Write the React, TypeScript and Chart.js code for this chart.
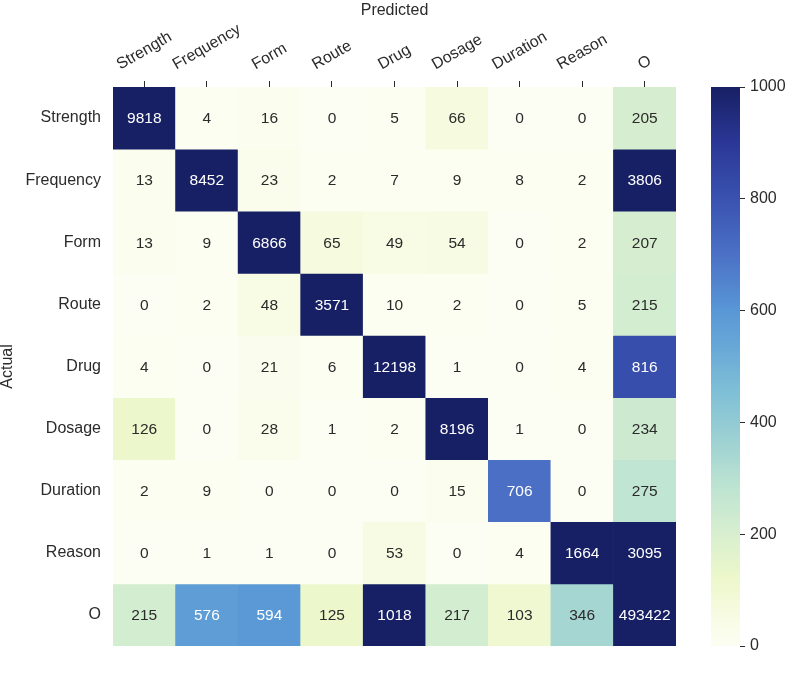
import React, { useEffect, useRef } from "react";
import { Chart, registerables } from "chart.js";

Chart.register(...registerables);

// ---------- data ----------
const predictedLabels = ["Strength", "Frequency", "Form", "Route", "Drug", "Dosage", "Duration", "Reason", "O"];
const actualLabels = ["Strength", "Frequency", "Form", "Route", "Drug", "Dosage", "Duration", "Reason", "O"];

const rowStrength = [9818, 4, 16, 0, 5, 66, 0, 0, 205];
const rowFrequency = [13, 8452, 23, 2, 7, 9, 8, 2, 3806];
const rowForm = [13, 9, 6866, 65, 49, 54, 0, 2, 207];
const rowRoute = [0, 2, 48, 3571, 10, 2, 0, 5, 215];
const rowDrug = [4, 0, 21, 6, 12198, 1, 0, 4, 816];
const rowDosage = [126, 0, 28, 1, 2, 8196, 1, 0, 234];
const rowDuration = [2, 9, 0, 0, 0, 15, 706, 0, 275];
const rowReason = [0, 1, 1, 0, 53, 0, 4, 1664, 3095];
const rowO = [215, 576, 594, 125, 1018, 217, 103, 346, 493422];

const colorbarTicks = [0, 200, 400, 600, 800, 1000];
const colorMin = 0;
const colorMax = 1000;

const matrix = [rowStrength, rowFrequency, rowForm, rowRoute, rowDrug, rowDosage, rowDuration, rowReason, rowO];

// ---------- style ----------
const FONT = "'Liberation Sans', Arial, Helvetica, sans-serif";
const TEXT = "#2b2b2b";

const cmapStops: [number, number[]][] = [
  [0.0, [252, 254, 243]],
  [0.06, [247, 251, 225]],
  [0.1, [240, 248, 210]],
  [0.125, [236, 247, 203]],
  [0.2, [216, 239, 207]],
  [0.25, [200, 232, 209]],
  [0.3, [184, 225, 210]],
  [0.35, [164, 213, 210]],
  [0.45, [128, 192, 214]],
  [0.55, [100, 164, 215]],
  [0.6, [89, 151, 214]],
  [0.7, [75, 113, 198]],
  [0.8, [58, 82, 176]],
  [0.9, [43, 55, 150]],
  [1.0, [23, 32, 100]],
];

function cmapRGB(v: number): number[] {
  let t = (v - colorMin) / (colorMax - colorMin);
  t = Math.max(0, Math.min(1, t));
  for (let i = 1; i < cmapStops.length; i++) {
    const [t1, c1] = cmapStops[i];
    const [t0, c0] = cmapStops[i - 1];
    if (t <= t1) {
      const f = (t - t0) / (t1 - t0 || 1);
      return c0.map((c, k) => Math.round(c + (c1[k] - c) * f));
    }
  }
  return cmapStops[cmapStops.length - 1][1];
}
function cmap(v: number): string {
  const c = cmapRGB(v);
  return `rgb(${c[0]},${c[1]},${c[2]})`;
}
function luminance(c: number[]): number {
  const lin = c.map((x) => {
    const s = x / 255;
    return s <= 0.03928 ? s / 12.92 : Math.pow((s + 0.055) / 1.055, 2.4);
  });
  return 0.2126 * lin[0] + 0.7152 * lin[1] + 0.0722 * lin[2];
}

const cellTextPlugin = {
  id: "cellText",
  afterDatasetsDraw(chart: any) {
    const ctx = chart.ctx;
    ctx.save();
    ctx.font = `15.5px ${FONT}`;
    ctx.textAlign = "center";
    ctx.textBaseline = "middle";
    chart.data.datasets.forEach((ds: any, r: number) => {
      const meta = chart.getDatasetMeta(r);
      meta.data.forEach((el: any, c: number) => {
        const v = ds.values[c];
        const lum = luminance(cmapRGB(v));
        ctx.fillStyle = lum > 0.408 ? TEXT : "#ffffff";
        const cy = (el.y + el.base) / 2;
        ctx.fillText(String(v), el.x, cy + 1);
      });
    });
    ctx.restore();
  },
};

const xLabelPlugin = {
  id: "xLabelsRotated",
  afterDraw(chart: any) {
    const ctx = chart.ctx;
    const xs = chart.scales.x;
    const ang = (30 * Math.PI) / 180;
    const fs = 16;
    const h = fs * 1.15;
    const bottomY = xs.bottom - 13;
    ctx.save();
    ctx.font = `${fs}px ${FONT}`;
    ctx.fillStyle = TEXT;
    ctx.textAlign = "center";
    ctx.textBaseline = "middle";
    predictedLabels.forEach((lab, i) => {
      const px = xs.getPixelForValue(i);
      const w = ctx.measureText(lab).width;
      const H = w * Math.sin(ang) + h * Math.cos(ang);
      const cy = bottomY - H / 2;
      ctx.save();
      ctx.translate(px, cy);
      ctx.rotate(-ang);
      ctx.fillText(lab, 0, 0);
      ctx.restore();
    });
    ctx.restore();
  },
};

const colorbarPlugin = {
  id: "colorbar",
  afterDraw(chart: any) {
    const ctx = chart.ctx;
    const cb = chart.scales.cb;
    const yTop = cb.getPixelForValue(colorMax);
    const yBot = cb.getPixelForValue(colorMin);
    const x1 = cb.left;
    const x0 = x1 - 29;
    ctx.save();
    const n = Math.ceil(yBot - yTop);
    for (let i = 0; i < n; i++) {
      const y = yTop + i;
      const v = cb.getValueForPixel(y + 0.5);
      ctx.fillStyle = cmap(v);
      ctx.fillRect(x0, y, x1 - x0, 1.2);
    }
    ctx.restore();
  },
};

export default function App() {
  const ref = useRef<HTMLCanvasElement | null>(null);

  useEffect(() => {
    if (!ref.current) return;
    const datasets = matrix.map((row, r) => ({
      label: actualLabels[r],
      values: row,
      data: row.map(() => [r, r + 1]),
      backgroundColor: row.map((v) => cmap(v)),
      borderWidth: 0,
      barPercentage: 1,
      categoryPercentage: 1,
      grouped: false,
    }));

    const chart = new Chart(ref.current, {
      type: "bar",
      data: { labels: predictedLabels, datasets: datasets as any },
      options: {
        animation: false,
        responsive: false,
        maintainAspectRatio: false,
        events: [],
        layout: { padding: { left: 0, right: 0, top: 0, bottom: 33 } },
        plugins: { legend: { display: false }, tooltip: { enabled: false } },
        scales: {
          x: {
            type: "category",
            position: "top",
            offset: true,
            grid: {
              display: true,
              offset: false,
              drawOnChartArea: false,
              drawTicks: true,
              tickLength: 6,
              color: TEXT,
              lineWidth: 1,
            },
            border: { display: false },
            ticks: { display: false },
            title: {
              display: true,
              text: "Predicted",
              color: TEXT,
              font: { family: FONT, size: 16 },
              padding: { top: 1, bottom: 0 },
            },
            afterFit: (s: any) => {
              s.height = 87;
            },
          } as any,
          y: {
            type: "linear",
            position: "left",
            min: 0,
            max: 9,
            reverse: true,
            afterBuildTicks: (s: any) => {
              s.ticks = actualLabels.map((_, i) => ({ value: i + 0.5 }));
            },
            ticks: {
              autoSkip: false,
              padding: 12,
              color: TEXT,
              font: { family: FONT, size: 16 },
              callback: (v: any) => actualLabels[Math.floor(Number(v))],
            },
            grid: { display: false, drawTicks: false },
            border: { display: false },
            title: {
              display: true,
              text: "Actual",
              color: TEXT,
              font: { family: FONT, size: 16, lineHeight: 1.0 },
              padding: 0,
            },
            afterFit: (s: any) => {
              s.width = 113;
            },
          } as any,
          gap: {
            type: "linear",
            axis: "y",
            position: "right",
            weight: 1,
            min: 0,
            max: 1,
            ticks: { display: false },
            grid: { display: false, drawTicks: false },
            border: { display: false },
            afterFit: (s: any) => {
              s.width = 64;
            },
          } as any,
          cb: {
            type: "linear",
            axis: "y",
            position: "right",
            weight: 2,
            min: colorMin,
            max: colorMax,
            afterBuildTicks: (s: any) => {
              s.ticks = colorbarTicks.map((v) => ({ value: v }));
            },
            ticks: {
              autoSkip: false,
              padding: 5,
              color: TEXT,
              font: { family: FONT, size: 16 },
              callback: (v: any) => String(v),
            },
            grid: {
              display: true,
              drawOnChartArea: false,
              drawTicks: true,
              tickLength: 5,
              color: TEXT,
              lineWidth: 1,
            },
            border: { display: false },
            afterFit: (s: any) => {
              s.width = 60;
            },
          } as any,
        },
      },
      plugins: [cellTextPlugin, xLabelPlugin, colorbarPlugin],
    });
    return () => chart.destroy();
  }, []);

  return (
    <div style={{ position: "absolute", left: 0, top: 0, width: 800, height: 679, background: "#ffffff" }}>
      <canvas ref={ref} width={800} height={679} style={{ display: "block" }} />
    </div>
  );
}
